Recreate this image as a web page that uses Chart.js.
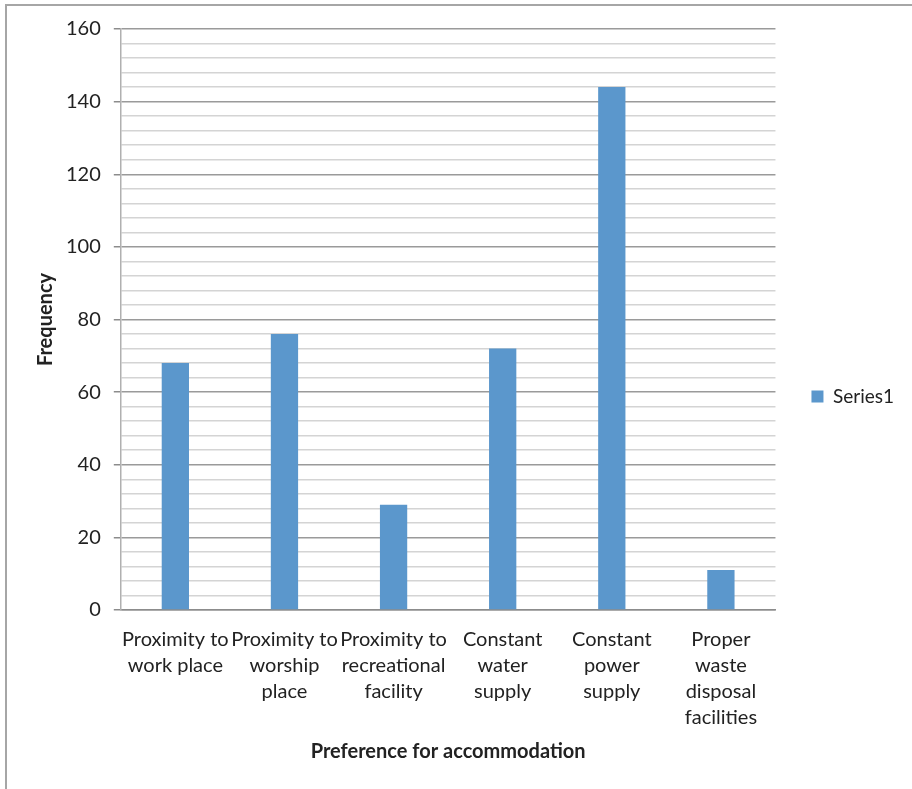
<!DOCTYPE html>
<html>
<head>
<meta charset="utf-8">
<script src="https://cdn.jsdelivr.net/npm/chart.js@4/dist/chart.umd.min.js"></script>
<style>
  html, body { margin: 0; padding: 0; background: #fff; }
  #wrap { position: relative; width: 912px; height: 789px; overflow: hidden; }
  #frame { position: absolute; left: 5px; top: 4px; width: 1000px; height: 1000px;
           border-top: 2px solid #a6a6a6; border-left: 2px solid #a6a6a6; box-sizing: border-box; }
  canvas { position: absolute; left: 0; top: 0; }
</style>
</head>
<body>
<div id="wrap">
  <div id="frame"></div>
  <canvas id="c" width="912" height="789"></canvas>
</div>
<script>
const categories = [
  ["Proximity to", "work place"],
  ["Proximity to", "worship", "place"],
  ["Proximity to", "recreational", "facility"],
  ["Constant", "water", "supply"],
  ["Constant", "power", "supply"],
  ["Proper", "waste", "disposal", "facilities"]
];
const series1 = [68, 76, 29, 72, 144, 11];
const yMin = 0, yMax = 160, majorStep = 20, minorStep = 4;

const font = "Lato, 'Open Sans', sans-serif";

new Chart(document.getElementById('c'), {
  type: 'bar',
  data: {
    labels: categories,
    datasets: [{
      label: 'Series1',
      data: series1,
      backgroundColor: '#5b97cc',
      borderWidth: 0,
      categoryPercentage: 1,
      barPercentage: 0.25
    }]
  },
  options: {
    responsive: false,
    animation: false,
    layout: { padding: { left: 11, top: 29, right: 8, bottom: 25 } },
    plugins: {
      tooltip: { enabled: false },
      legend: {
        position: 'right',
        align: 'center',
        labels: {
          boxWidth: 12, boxHeight: 12, padding: 36,
          color: '#222',
          font: { family: font, size: 19 }
        }
      }
    },
    scales: {
      x: {
        grid: { display: false, drawTicks: false },
        border: { display: true, color: '#8c8c8c', width: 1.5 },
        ticks: {
          color: '#222', maxRotation: 0, minRotation: 0, autoSkip: false, padding: 17,
          font: { family: font, size: 20, lineHeight: 1.3 }
        },
        title: {
          display: true, text: 'Preference for accommodation', color: '#222',
          font: { family: font, size: 20, weight: 'bold' }, padding: { top: -8, bottom: 0 }
        }
      },
      y: {
        min: yMin, max: yMax,
        grid: {
          color: ctx => (ctx.tick && ctx.tick.value % majorStep === 0) ? '#9a9a9a' : '#d4d4d4',
          lineWidth: 1.5,
          tickLength: 7,
          tickColor: ctx => (ctx.tick && ctx.tick.value % majorStep === 0) ? '#8c8c8c' : 'rgba(0,0,0,0)'
        },
        border: { display: true, color: '#b0b0b0', width: 1.5 },
        ticks: {
          stepSize: minorStep,
          autoSkip: false,
          color: '#222', padding: 13,
          font: { family: font, size: 20 },
          callback: v => (v % majorStep === 0) ? String(v) : ''
        },
        title: {
          display: true, text: 'Frequency', color: '#222',
          font: { family: font, size: 20, weight: 'bold' }, padding: { top: 23, bottom: -5 }
        }
      }
    }
  }
});
</script>
</body>
</html>
